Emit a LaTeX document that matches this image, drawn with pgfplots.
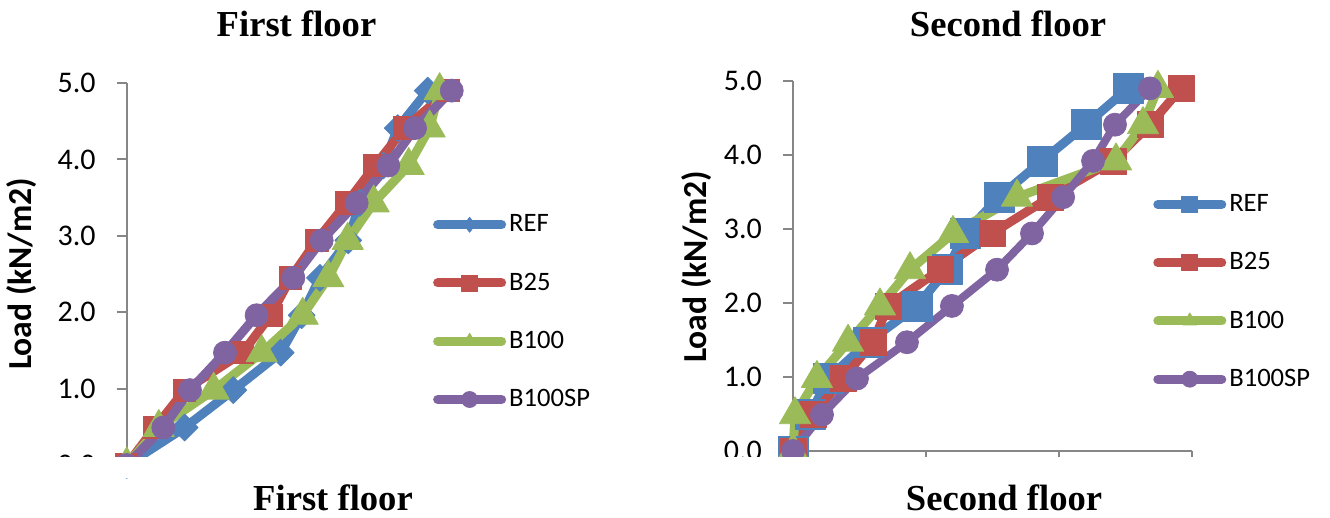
\documentclass[border=0pt]{standalone}
\usepackage{fontspec}
\setmainfont{Carlito}
\newfontfamily\titlefont{Liberation Serif}
\usepackage{pgfplots}
\pgfplotsset{compat=1.18}
\definecolor{cREF}{HTML}{4F81BD}
\definecolor{cBtf}{HTML}{C0504D}
\definecolor{cBhd}{HTML}{9BBB59}
\definecolor{cSP}{HTML}{8064A2}
\definecolor{axgray}{HTML}{868686}
\pgfplotsset{
  floor/.style={
    scale only axis, width=199.5pt,
    xmin=0, xmax=30, ymin=0, ymax=5,
    clip=false,
    ytick={0,1,2,3,4,5},
    yticklabels={},
    tick align=outside,
    major tick length=5pt,
    tick style={axgray, line width=1pt},
    axis line style={axgray, line width=1pt},
    axis y line*=left,
    every axis plot/.append style={line width=4.5pt, line join=round, line cap=round},
    legend style={draw=none, fill=none, anchor=west, inner sep=0pt,
      font=\fontsize{13.3}{16}\selectfont, row sep=16pt,
      nodes={inner sep=1.5pt}, cells={anchor=west}},
    legend image code/.code={\draw[mark repeat=2,mark phase=2] plot coordinates {(0pt,0pt) (16pt,0pt) (32pt,0pt)};},
    extra y ticks={0,1,2,3,4,5},
    extra y tick style={major tick length=0pt,
      yticklabel={\pgfmathprintnumber[fixed,fixed zerofill,precision=1,assume math mode=true]{\tick}},
      yticklabel style={font=\fontsize{15}{18}\selectfont, text=black, anchor=east, xshift=-12pt}},
  },
}
\begin{document}
\begin{tikzpicture}
\path[use as bounding box] (0pt,0pt) rectangle (665pt,259pt);
% ---------------- First floor ----------------
\begin{axis}[floor, at={(63.35pt,26.5pt)}, anchor=south west, height=191pt,
  axis x line=none,
  legend style={at={(axis description cs:0.767,0.40)}}]
\addplot[cREF, forget plot, mark=square*, mark size=4.75pt, mark options={solid, rotate=45, line width=0.4pt}] coordinates {
(0,0) (4.36,0.49) (8.02,0.98) (11.58,1.47) (13.16,1.96) (14.53,2.45) (16.66,2.94) (17.52,3.43) (19.29,3.92) (20.38,4.41) (22.63,4.9)};
\addplot[cBtf, forget plot, mark=square*, mark size=5.6pt, mark options={solid, line width=0.4pt}] coordinates {
(0,0) (2.13,0.49) (4.36,0.98) (8.72,1.47) (10.83,1.96) (12.33,2.45) (14.29,2.94) (16.54,3.43) (18.67,3.92) (20.90,4.41) (24.21,4.9)};
\addplot[cBhd, forget plot, mark=triangle*, mark size=9pt, mark options={solid, line width=0.4pt}] coordinates {
(0,0) (2.41,0.49) (6.54,0.98) (10.15,1.47) (13.23,1.96) (15.16,2.45) (16.62,2.94) (18.57,3.43) (21.20,3.92) (22.78,4.41) (23.53,4.9)};
\addplot[cSP, forget plot, mark=*, mark size=5.75pt, mark options={solid, line width=0.4pt}] coordinates {
(0,0) (2.75,0.49) (4.76,0.98) (7.39,1.47) (9.77,1.96) (12.53,2.45) (14.66,2.94) (17.29,3.43) (19.67,3.92) (21.68,4.41) (24.44,4.9)};
\addlegendimage{cREF, line width=4.5pt, line cap=round, mark=diamond*, mark size=3.75pt, mark options={solid, line width=0.4pt}}
\addlegendentry{REF}
\addlegendimage{cBtf, line width=4.5pt, line cap=round, mark=square*, mark size=4pt, mark options={solid, line width=0.4pt}}
\addlegendentry{B25}
\addlegendimage{cBhd, line width=4.5pt, line cap=round, mark=triangle*, mark size=4pt, mark options={solid, line width=0.4pt}}
\addlegendentry{B100}
\addlegendimage{cSP, line width=4.5pt, line cap=round, mark=*, mark size=4pt, mark options={solid, line width=0.4pt}}
\addlegendentry{B100SP}
\end{axis}
% ---------------- Second floor ----------------
\begin{axis}[floor, at={(396.5pt,33.5pt)}, anchor=south west, height=185pt,
  axis x line*=bottom, xtick={0,10,20,30}, xticklabels={},
  legend style={at={(axis description cs:0.902,0.43)}}]
\addplot[cREF, forget plot, mark=square*, mark size=7.5pt, mark options={solid, line width=0.4pt}] coordinates {
(0,0) (1.28,0.49) (2.63,0.98) (5.64,1.47) (9.32,1.96) (11.58,2.45) (12.93,2.94) (15.49,3.43) (18.72,3.92) (22.03,4.41) (25.19,4.9)};
\addplot[cBtf, forget plot, mark=square*, mark size=6.5pt, mark options={solid, line width=0.4pt}] coordinates {
(0,0) (1.50,0.49) (3.76,0.98) (6.02,1.47) (7.14,1.96) (11.05,2.45) (14.96,2.94) (19.32,3.43) (24.06,3.92) (26.84,4.41) (29.17,4.9)};
\addplot[cBhd, forget plot, mark=triangle*, mark size=9pt, mark options={solid, line width=0.4pt}] coordinates {
(0,0) (0.15,0.49) (1.80,0.98) (4.14,1.47) (6.54,1.96) (8.80,2.45) (12.03,2.94) (16.84,3.43) (24.29,3.92) (26.32,4.41) (27.44,4.9)};
\addplot[cSP, forget plot, line width=4pt, mark=*, mark size=5.75pt, mark options={solid, line width=0.4pt}] coordinates {
(0,0) (2.18,0.49) (4.81,0.98) (8.57,1.47) (11.95,1.96) (15.34,2.45) (17.97,2.94) (20.31,3.43) (22.56,3.92) (24.21,4.41) (26.84,4.9)};
\addlegendimage{cREF, line width=4.5pt, line cap=round, mark=square*, mark size=4pt, mark options={solid, line width=0.4pt}}
\addlegendentry{REF}
\addlegendimage{cBtf, line width=4.5pt, line cap=round, mark=square*, mark size=4pt, mark options={solid, line width=0.4pt}}
\addlegendentry{B25}
\addlegendimage{cBhd, line width=4.5pt, line cap=round, mark=triangle*, mark size=4pt, mark options={solid, line width=0.4pt}}
\addlegendentry{B100}
\addlegendimage{cSP, line width=4.5pt, line cap=round, mark=*, mark size=4pt, mark options={solid, line width=0.4pt}}
\addlegendentry{B100SP}
\end{axis}
% crop band of the original figure
\fill[white] (0pt,20pt) rectangle (665pt,30.5pt);
% axis titles and panel captions
\node[rotate=90, font=\fontsize{16.8}{20}\selectfont\bfseries] at (11pt,122pt) {Load (kN/m2)};
\node[rotate=90, font=\fontsize{16.8}{20}\selectfont\bfseries] at (348.5pt,125.5pt) {Load (kN/m2)};
\node[font=\titlefont\fontsize{18.3}{22}\selectfont\bfseries] at (148.25pt,247pt) {First floor};
\node[font=\titlefont\fontsize{18.3}{22}\selectfont\bfseries] at (504pt,247pt) {Second floor};
\node[font=\titlefont\fontsize{18.3}{22}\selectfont\bfseries] at (166.5pt,10.25pt) {First floor};
\node[font=\titlefont\fontsize{18.3}{22}\selectfont\bfseries] at (502pt,10pt) {Second floor};
\end{tikzpicture}
\end{document}
